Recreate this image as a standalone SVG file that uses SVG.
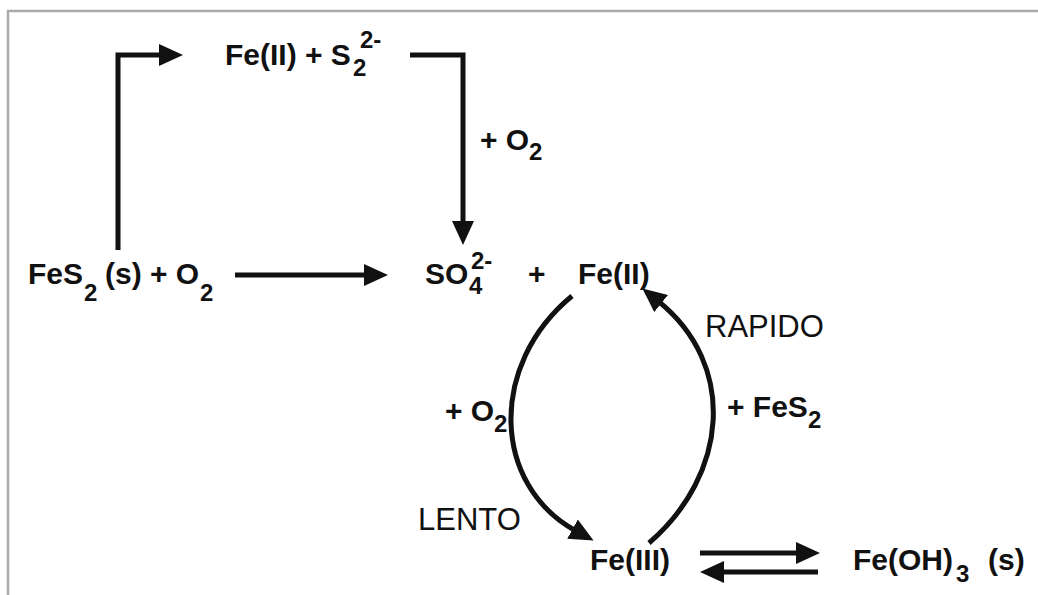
<svg xmlns="http://www.w3.org/2000/svg" width="1038" height="595" viewBox="0 0 1038 595">
<style>
.b{font-family:"Liberation Sans",Arial,sans-serif;font-weight:bold;font-size:30px;fill:#111}
.r{font-family:"Liberation Sans",Arial,sans-serif;font-size:31px;fill:#111}
.s{font-size:24px}
.ln{fill:none;stroke:#111;stroke-width:5}
</style>
<defs>
<marker id="ah" viewBox="0 0 24 22" markerWidth="24" markerHeight="22" refX="4" refY="11" orient="auto" markerUnits="userSpaceOnUse">
<path d="M0,0 L24,11 L0,22 z" fill="#111"/>
</marker>
</defs>
<rect width="1038" height="595" fill="#fff"/>
<path d="M8,595 V11 H1038" fill="none" stroke="#aaa" stroke-width="2.5"/>
<g id="connectors">
<path class="ln" d="M118,250 V55 H163" marker-end="url(#ah)"/>
<path class="ln" d="M410,55 H463 V225" marker-end="url(#ah)"/>
<path class="ln" d="M235,275 H368" marker-end="url(#ah)"/>
<path class="ln" d="M572,296 C488,365 492,485 576,531" marker-end="url(#ah)"/>
<path class="ln" d="M649,543 C728,475 738,365 658,301" marker-end="url(#ah)"/>
<path class="ln" d="M700,553 H800" marker-end="url(#ah)"/>
<path class="ln" d="M818,572 H720" marker-end="url(#ah)"/>
</g>
<g id="fe2-s2">
<text class="b" x="225" y="65">Fe(II) + S</text>
<text class="b s" x="353" y="76">2</text>
<text class="b s" x="360" y="48">2-</text>
</g>
<g id="plus-o2-top">
<text class="b" x="480" y="150">+ O</text>
<text class="b s" x="529" y="160">2</text>
</g>
<g id="fes2-o2">
<text class="b" x="28" y="284">FeS</text>
<text class="b s" x="84" y="301">2</text>
<text class="b" x="105" y="284">(s) + O</text>
<text class="b s" x="200" y="301">2</text>
</g>
<g id="so4">
<text class="b" x="425" y="284">SO</text>
<text class="b s" x="469" y="294">4</text>
<text class="b s" x="471" y="269">2-</text>
</g>
<g id="plus-mid">
<text class="b" x="528" y="284">+</text>
</g>
<g id="fe2">
<text class="b" x="578" y="284">Fe(II)</text>
</g>
<g id="rapido">
<text class="r" x="705" y="337">RAPIDO</text>
</g>
<g id="plus-fes2">
<text class="b" x="727" y="417">+ FeS</text>
<text class="b s" x="808" y="428">2</text>
</g>
<g id="plus-o2-left">
<text class="b" x="445" y="421">+ O</text>
<text class="b s" x="494" y="432">2</text>
</g>
<g id="lento">
<text class="r" x="418" y="530">LENTO</text>
</g>
<g id="fe3">
<text class="b" x="590" y="570">Fe(III)</text>
</g>
<g id="feoh3">
<text class="b" x="853" y="570">Fe(OH)</text>
<text class="b s" x="956" y="582">3</text>
<text class="b" x="988" y="570">(s)</text>
</g>
</svg>
